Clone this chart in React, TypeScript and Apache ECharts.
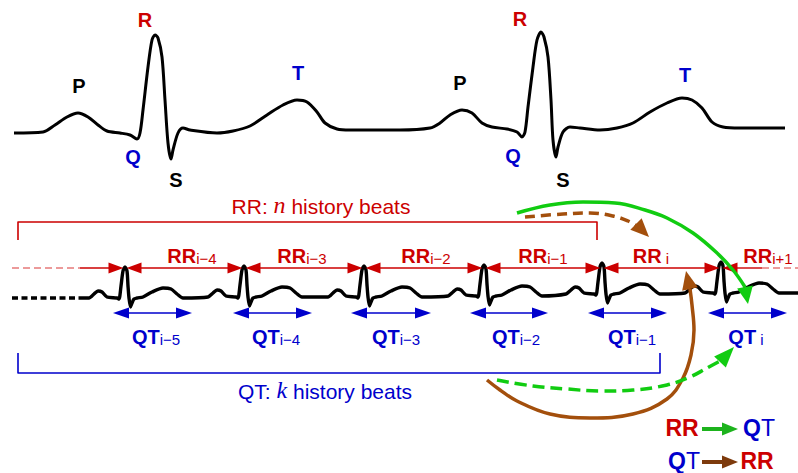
import React, { useEffect, useRef } from 'react';
import * as echarts from 'echarts';

const W = 798;
const H = 473;
const SANS = 'Liberation Sans, Arial, Helvetica, sans-serif';
const SERIF = 'Liberation Serif, Times New Roman, serif';
const RED = '#cc0000';
const PINK = '#e67a7a';
const BLUE = '#0000cc';
const BLACK = '#000000';
const GREEN = '#11cc11';
const BROWN = '#a34f0c';
const LEG_GREEN = '#1db31d';
const LEG_BROWN = '#7d3a0c';

// Top schematic ECG (two beats)
const topX = [14, 43, 55, 67, 78, 88, 98, 107, 120, 130, 137, 140, 143, 148, 152, 155, 158, 162, 165, 168, 171, 173, 178, 183, 190, 217, 233, 250, 267, 283, 297, 307, 317, 325, 337, 350, 400, 430, 440, 450, 462, 472, 482, 492, 507, 517, 522, 525, 528, 533, 537, 541, 544, 548, 551, 553, 556, 558, 563, 570, 580, 600, 617, 633, 650, 667, 682, 692, 702, 712, 723, 740, 785];
const topY = [133, 132, 125, 117, 113, 117, 125, 131, 133, 135, 139, 133, 110, 67, 40, 35, 38, 57, 100, 143, 159, 150, 133, 128, 130, 133, 131, 126, 115, 105, 100, 102, 112, 123, 129, 130, 130, 128, 123, 115, 110, 113, 123, 127, 129, 132, 137, 132, 107, 67, 40, 32, 37, 57, 100, 140, 157, 147, 132, 127, 128, 130, 128, 123, 112, 103, 98, 100, 108, 122, 127, 128, 128];

const waveNames = ['P', 'R', 'Q', 'S', 'T', 'P', 'R', 'Q', 'S', 'T'];
const waveLabelX = [79, 145, 133, 176, 298, 460, 520, 513, 563, 685];
const waveLabelY = [86, 20, 157, 180, 73, 83, 19, 156, 180, 75];

// Beat strip
const rPeaks = [125, 244, 364, 484, 602, 721];
const stripBaseline = [298, 297, 297, 296, 294, 293];
const beatDx = [-36, -31, -27, -23, -18, -8, -6, -4, -2, 0, 2, 3, 4, 5.5, 7, 9, 12, 18, 27, 38, 46, 52, 58];
const beatDy = [0, -4, -7, -6, -1, 0, 1, -12, -27, -31, -27, -12, 0, 9, 5, 1, 0, -1, -6, -10, -9, -4, 0];
const dottedStart = 12;
const stripStart = 80;
const stripEnd = 798;

const rrLineY = 268;
const rrSolidLeft = 80;
const rrSolidRight = 762;
const rrSubs = ['i\u22124', 'i\u22123', 'i\u22122', 'i\u22121', ' i', 'i+1'];
const rrLabelX = [192, 302, 426, 543, 651, 768];
const rrLabelY = 256;

const qtStart = [113, 233, 351, 470, 588, 708];
const qtEnd = [192, 312, 431, 548, 667, 787];
const qtLineY = 313;
const qtSubs = ['i\u22125', 'i\u22124', 'i\u22123', 'i\u22122', 'i\u22121', ' i'];
const qtLabelX = [156, 276, 396, 516, 632, 746];
const qtLabelY = 337;

// brackets
const rrBracketX = [18, 18, 597, 597];
const rrBracketY = [240, 222, 222, 240];
const qtBracketX = [18, 18, 660, 660];
const qtBracketY = [353, 373, 373, 353];

// curved arrows
const greenSolidX = [517, 550, 583, 615, 645, 667, 693, 717, 733, 745];
const greenSolidY = [213, 205, 202, 203, 210, 218, 233, 253, 270, 287];
const greenSolidHead = [748, 304, 745, 287];
const brownDashX = [525, 563, 590, 613, 628, 637];
const brownDashY = [217, 214, 213, 216, 221, 226];
const brownDashHead = [649, 237, 636, 224];
const brownSolidX = [487, 500, 517, 550, 590, 633, 667, 683, 691, 694, 692, 690];
const brownSolidY = [380, 390, 401, 414, 418, 414, 399, 378, 355, 330, 305, 289];
const brownSolidHead = [686, 271, 690, 289];
const greenDashX = [497, 533, 567, 600, 633, 667, 690, 707, 720];
const greenDashY = [380, 386, 389, 391, 390, 385, 377, 368, 361];
const greenDashHead = [734, 347, 720, 362];

// legend
const legendArrowX = [702, 738];
const legendRowY = [428, 461];

const zip = (xs: number[], ys: number[]) => xs.map((x, i) => [x, ys[i]]);

function buildStrip() {
  const pts: number[][] = [[stripStart, stripBaseline[0]]];
  rPeaks.forEach((r, k) => {
    beatDx.forEach((dx, j) => pts.push([r + dx, stripBaseline[k] + beatDy[j]]));
  });
  pts.push([stripEnd, stripBaseline[stripBaseline.length - 1]]);
  return pts;
}

function straightArrows(color: string, lw: number, headLen: number, headHalf: number, tipGap: number, dash?: number[]) {
  return (params: any, api: any) => {
    const x1 = api.value(0), x2 = api.value(1), y = api.value(2);
    const hs = api.value(3), he = api.value(4);
    const a = api.coord([x1, y]);
    const b = api.coord([x2, y]);
    const ax = a[0] + (hs ? tipGap : 0);
    const bx = b[0] - (he ? tipGap : 0);
    const children: any[] = [];
    children.push({
      type: 'line',
      shape: { x1: hs ? ax + headLen * 0.7 : ax, y1: a[1], x2: he ? bx - headLen * 0.7 : bx, y2: b[1] },
      style: { stroke: color, lineWidth: lw, lineDash: dash || null, fill: null },
    });
    if (hs) children.push({ type: 'polygon', shape: { points: [[ax, a[1]], [ax + headLen, a[1] - headHalf], [ax + headLen, a[1] + headHalf]] }, style: { fill: color } });
    if (he) children.push({ type: 'polygon', shape: { points: [[bx, b[1]], [bx - headLen, b[1] - headHalf], [bx - headLen, b[1] + headHalf]] }, style: { fill: color } });
    return { type: 'group', children };
  };
}

function headRender(color: string, half: number) {
  return (params: any, api: any) => {
    const tip = api.coord([api.value(0), api.value(1)]);
    const base = api.coord([api.value(2), api.value(3)]);
    const dx = tip[0] - base[0], dy = tip[1] - base[1];
    const L = Math.hypot(dx, dy) || 1;
    const nx = -dy / L, ny = dx / L;
    return {
      type: 'polygon',
      shape: { points: [tip, [base[0] + nx * half, base[1] + ny * half], [base[0] - nx * half, base[1] - ny * half]] },
      style: { fill: color },
    };
  };
}

function lineSeries(data: number[][], color: string, width: number, smooth: number | boolean, type: any = 'solid', z = 2) {
  return {
    type: 'line',
    data,
    smooth,
    symbol: 'none',
    silent: true,
    z,
    lineStyle: { color, width, type, cap: 'butt', join: 'round' },
  };
}

function curve(xs: number[], ys: number[], head: number[], color: string, dash: any) {
  return [
    lineSeries(zip(xs, ys), color, 3.5, 0.4, dash, 6),
    {
      type: 'custom',
      silent: true,
      clip: false,
      z: 7,
      renderItem: headRender(color, 8),
      data: [head],
    },
  ];
}

function label(x: number, y: number, formatter: string, rich: any, extra: any = {}) {
  return {
    value: [x, y],
    label: {
      show: true, position: 'inside', formatter, rich, fontFamily: SANS,
      textBorderWidth: 0, textShadowBlur: 0, opacity: 1, ...extra,
    },
  };
}

function buildLabels() {
  const items: any[] = [];
  const waveColor: Record<string, string> = { P: BLACK, R: RED, Q: BLUE, S: BLACK, T: BLUE };
  waveNames.forEach((n, i) => {
    items.push(label(waveLabelX[i], waveLabelY[i], n, undefined, { color: waveColor[n], fontSize: 20, fontWeight: 'bold' }));
  });
  const sub = (color: string) => ({
    m: { fontSize: 20, fontWeight: 'bold', color, fontFamily: SANS, verticalAlign: 'bottom' },
    s: { fontSize: 15, color, fontFamily: SANS, verticalAlign: 'bottom' },
  });
  rrSubs.forEach((s, i) => items.push(label(rrLabelX[i], rrLabelY, `{m|RR}{s|${s}}`, sub(RED))));
  qtSubs.forEach((s, i) => items.push(label(qtLabelX[i], qtLabelY, `{m|QT}{s|${s}}`, sub(BLUE))));
  const bracketRich = (color: string) => ({
    a: { fontSize: 21, color, fontFamily: SANS, verticalAlign: 'bottom' },
    n: { fontSize: 24, color, fontFamily: SERIF, fontStyle: 'italic', verticalAlign: 'bottom' },
  });
  items.push(label(321, 205, '{a|RR: }{n|n}{a| history beats}', bracketRich(RED)));
  items.push(label(325, 390, '{a|QT: }{n|k}{a| history beats}', bracketRich(BLUE)));
  const legRich = {
    r: { fontSize: 23, fontWeight: 'bold', color: RED, fontFamily: SANS },
    qb: { fontSize: 23, fontWeight: 'bold', color: BLUE, fontFamily: SANS },
    qn: { fontSize: 23, color: BLUE, fontFamily: SANS },
  };
  items.push(label(682, legendRowY[0], '{r|RR}', legRich));
  items.push(label(759, legendRowY[0], '{qb|Q}{qn|T}', legRich));
  items.push(label(684, legendRowY[1], '{qb|Q}{qn|T}', legRich));
  items.push(label(757, legendRowY[1], '{r|RR}', legRich));
  return items;
}

function buildOption() {
  const rrIntervals: number[][] = [];
  rrIntervals.push([rrSolidLeft, rPeaks[0], rrLineY, 0, 1]);
  for (let k = 0; k < rPeaks.length - 1; k++) rrIntervals.push([rPeaks[k], rPeaks[k + 1], rrLineY, 1, 1]);
  rrIntervals.push([rPeaks[rPeaks.length - 1], rrSolidRight, rrLineY, 1, 0]);
  const rrDashed = [
    [dottedStart, rrSolidLeft, rrLineY, 0, 0],
    [rrSolidRight, stripEnd, rrLineY, 0, 0],
  ];
  const qtArrows = qtStart.map((s, i) => [s, qtEnd[i], qtLineY, 1, 1]);

  return {
    animation: false,
    backgroundColor: '#ffffff',
    textStyle: { fontFamily: SANS },
    grid: { left: 0, right: 0, top: 0, bottom: 0, containLabel: false },
    xAxis: { type: 'value', min: 0, max: W, show: false },
    yAxis: { type: 'value', min: 0, max: H, inverse: true, show: false },
    series: [
      lineSeries(zip(topX, topY), BLACK, 3, 0.3),
      lineSeries([[dottedStart, stripBaseline[0]], [stripStart, stripBaseline[0]]], BLACK, 3.5, false, [6, 3.5]),
      lineSeries(buildStrip(), BLACK, 3.4, 0.25),
      lineSeries(zip(rrBracketX, rrBracketY), RED, 1.6, false),
      lineSeries(zip(qtBracketX, qtBracketY), BLUE, 1.6, false),
      { type: 'custom', silent: true, clip: false, z: 3, renderItem: straightArrows(PINK, 1.4, 0, 0, 0, [7, 4]), data: rrDashed },
      { type: 'custom', silent: true, clip: false, z: 3, renderItem: straightArrows(RED, 1.4, 15, 5.5, 1.5), data: rrIntervals },
      { type: 'custom', silent: true, clip: false, z: 3, renderItem: straightArrows(BLUE, 1.4, 16, 5.5, 0), data: qtArrows },
      ...curve(brownSolidX, brownSolidY, brownSolidHead, BROWN, 'solid'),
      ...curve(greenDashX, greenDashY, greenDashHead, GREEN, [12, 6]),
      ...curve(brownDashX, brownDashY, brownDashHead, BROWN, [10, 6]),
      ...curve(greenSolidX, greenSolidY, greenSolidHead, GREEN, 'solid'),
      {
        type: 'custom', silent: true, clip: false, z: 5,
        renderItem: straightArrows(LEG_GREEN, 4, 16, 6.5, 0),
        data: [[legendArrowX[0], legendArrowX[1], legendRowY[0] + 1, 0, 1]],
      },
      {
        type: 'custom', silent: true, clip: false, z: 5,
        renderItem: straightArrows(LEG_BROWN, 4, 16, 6.5, 0),
        data: [[legendArrowX[0], legendArrowX[1], legendRowY[1] + 1, 0, 1]],
      },
      {
        type: 'scatter',
        silent: true,
        z: 10,
        symbolSize: 1,
        itemStyle: { color: 'rgba(0,0,0,0)' },
        data: buildLabels(),
      },
    ],
  };
}

export default function App() {
  const ref = useRef<HTMLDivElement>(null);
  useEffect(() => {
    const chart = echarts.init(ref.current!, null, { renderer: 'svg' });
    chart.setOption(buildOption() as any);
    return () => chart.dispose();
  }, []);
  return (
    <div
      ref={ref}
      style={{ position: 'absolute', left: 0, top: 0, width: W, height: H, background: '#fff' }}
    />
  );
}
